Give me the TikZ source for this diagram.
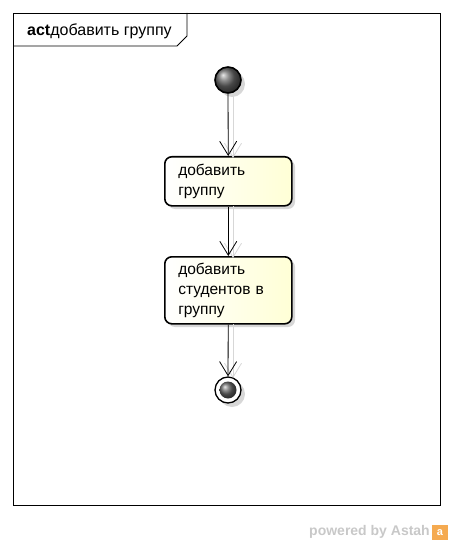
\documentclass[tikz,border=0pt]{standalone}
\usepackage{fontspec}
\setmainfont{Liberation Sans}
\usetikzlibrary{arrows.meta,shadings}
\definecolor{actfill}{RGB}{255,255,214}
\definecolor{shadowgray}{RGB}{215,215,215}
\definecolor{astahgray}{RGB}{200,200,200}
\definecolor{astahorange}{RGB}{245,170,80}
\tikzset{
  actionbox/.style={draw=black, line width=1.6pt, rounded corners=7pt, minimum width=127pt, text width=100pt, align=left, inner xsep=12pt, inner ysep=4pt, left color=white, right color=actfill, font=\fontsize{15.5}{20}\selectfont},
  boxshadow/.style={fill=shadowgray, rounded corners=7pt},
  flow/.style={draw=black, line width=0.8pt, -{Straight Barb[length=14pt,width=17pt,line width=0.8pt]}},
  flowshadow/.style={draw=shadowgray, line width=0.8pt, -{Straight Barb[length=14pt,width=17pt,line width=0.8pt]}},
}
\begin{document}
\begin{tikzpicture}[x=1pt,y=-1pt]
\useasboundingbox (0,0) rectangle (453,545);
% frame
\draw[line width=0.8pt] (13,13) rectangle (440,505);
\draw[line width=0.8pt] (13,46) -- (177,46) -- (187,36) -- (187,13);
\node[anchor=west, inner sep=0pt, font=\fontsize{16}{17}\selectfont] (title) at (27,31) {\textbf{act}добавить группу};
% shadows
\fill[shadowgray] (232,84) circle (13);
\fill[boxshadow] (168,160) rectangle (295,209);
\fill[boxshadow] (168,260) rectangle (295,327);
\fill[shadowgray] (232,394) circle (13);
% nodes
\node[circle, draw=black, line width=1.6pt, minimum size=26pt, inner sep=0pt, ball color=gray!80!black, shading=ball] (start) at (228,80) {};
\node[actionbox, minimum height=49pt, anchor=north west] (a1) at (164,156) {добавить\\группу};
\node[actionbox, minimum height=67pt, anchor=north west] (a2) at (164,256) {добавить\\студентов в\\группу};
\node[circle, draw=black, line width=1.3pt, fill=white, minimum size=26pt, inner sep=0pt] (end) at (228,390) {};
\node[circle, inner sep=0pt, minimum size=17pt, ball color=gray!80!black, shading=ball] (endin) at (228,390) {};
% connector shadows
\coordinate (s1a) at (233,94); \coordinate (s1b) at (233,158);
\coordinate (s2a) at (233,206); \coordinate (s2b) at (233,258);
\coordinate (s3a) at (233,324); \coordinate (s3b) at (233,378);
\draw[flowshadow] (s1a) -- (s1b);
\draw[flowshadow] (s2a) -- (s2b);
\draw[flowshadow] (s3a) -- (s3b);
% connectors
\draw[flow] (start) -- (a1);
\draw[flow] (a1) -- (a2);
\draw[flow] (a2) -- (end);
% watermark
\node[anchor=east, inner sep=0pt, text=astahgray, font=\bfseries\fontsize{14}{16}\selectfont] (pw) at (430,532) {powered by Astah};
\fill[astahorange] (432,525) rectangle (448,540);
\node[inner sep=0pt, text=white, font=\bfseries\fontsize{11}{11}\selectfont] (logo) at (440,533) {a};
\end{tikzpicture}
\end{document}
